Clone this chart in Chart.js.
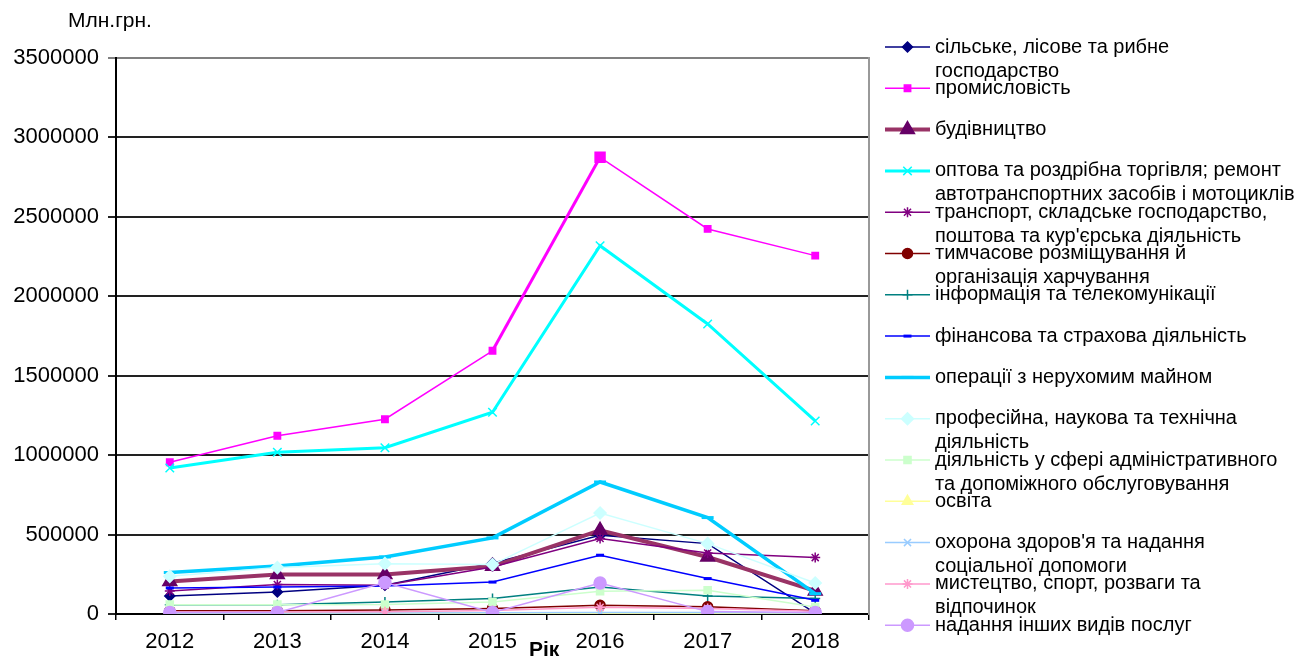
<!DOCTYPE html>
<html>
<head>
<meta charset="utf-8">
<script src="https://cdn.jsdelivr.net/npm/chart.js@4/dist/chart.umd.min.js"></script>
<style>
  body { margin: 0; background: #fff; }
  #wrap { width: 1314px; height: 658px; position: relative; }
</style>
</head>
<body>
<div id="wrap"><canvas id="salesChart"></canvas></div>
<script>
const years = ['2012', '2013', '2014', '2015', '2016', '2017', '2018'];

const agriculture = [113000, 139000, 181000, 320000, 496000, 443000, 5000];
const industry = [955000, 1122000, 1226000, 1657000, 2875000, 2424000, 2256000];
const construction = [205000, 248000, 248000, 300000, 527000, 359000, 145000];
const trade = [919000, 1018000, 1047000, 1270000, 2318000, 1826000, 1215000];
const transport = [145000, 185000, 181000, 296000, 475000, 384000, 355000];
const accommodation = [20000, 20000, 25000, 35000, 55000, 45000, 20000];
const information = [59000, 59000, 76000, 97000, 170000, 113000, 97000];
const finance = [164000, 170000, 176000, 201000, 370000, 223000, 86000];
const realEstate = [261000, 302000, 359000, 479000, 831000, 607000, 128000];
const professional = [237000, 292000, 317000, 311000, 636000, 443000, 195000];
const administrative = [59000, 59000, 60000, 76000, 143000, 149000, 44000];
const education = [3000, 3000, 3000, 3000, 3000, 3000, 3000];
const health = [6000, 6000, 7000, 8000, 10000, 9000, 7000];
const arts = [12000, 12000, 14000, 22000, 42000, 35000, 17000];
const otherServices = [9000, 9000, 198000, 9000, 195000, 15000, 9000];

const seriesNames = [
    ['сільське, лісове та рибне', 'господарство'],
    ['промисловість'],
    ['будівництво'],
    ['оптова та роздрібна торгівля; ремонт', 'автотранспортних засобів і мотоциклів'],
    ['транспорт, складське господарство,', 'поштова та кур\'єрська діяльність'],
    ['тимчасове розміщування й', 'організація харчування'],
    ['інформація та телекомунікації'],
    ['фінансова та страхова діяльність'],
    ['операції з нерухомим майном'],
    ['професійна, наукова та технічна', 'діяльність'],
    ['діяльність у сфері адміністративного', 'та допоміжного обслуговування'],
    ['освіта'],
    ['охорона здоров\'я та надання', 'соціальної допомоги'],
    ['мистецтво, спорт, розваги та', 'відпочинок'],
    ['надання інших видів послуг']
];

const yTicks = [0, 500000, 1000000, 1500000, 2000000, 2500000, 3000000, 3500000];
const unitLabel = 'Млн.грн.';
const xTitle = 'Рік';

const FONT = '"Liberation Sans", Arial, sans-serif';

function series(i, values, line, width, marker, style, radius, extra) {
    return Object.assign({
        label: seriesNames[i].join(' '),
        data: values,
        borderColor: line,
        borderWidth: width,
        pointStyle: style,
        pointRadius: radius,
        pointHoverRadius: radius,
        pointBackgroundColor: marker,
        pointBorderColor: marker,
        pointBorderWidth: 1.5,
        fill: false,
        tension: 0,
        order: 20 - i
    }, extra || {});
}

const datasets = [
    series(0, agriculture, '#000080', 1.5, '#000080', 'rectRot', 5),
    series(1, industry, '#FF00FF', 1.5, '#FF00FF', 'rect', 4.5, {
        pointRadius: [4.5, 4.5, 4.5, 4.5, 7, 4.5, 4.5],
        segment: { borderWidth: c => c.p0DataIndex === 3 ? 3 : 1.5 }
    }),
    series(2, construction, '#993366', 4, '#660066', 'triangle', 8),
    series(3, trade, '#00FFFF', 3, '#00FFFF', 'crossRot', 6),
    series(4, transport, '#800080', 1.5, '#800080', 'star', 5),
    series(5, accommodation, '#800000', 1.5, '#800000', 'circle', 5),
    series(6, information, '#008080', 1.5, '#008080', 'cross', 5),
    series(7, finance, '#0000FF', 1.5, '#0000FF', 'line', 4, { pointBorderWidth: 3 }),
    series(8, realEstate, '#00CCFF', 3.5, '#00CCFF', 'line', 6, { pointBorderWidth: 3 }),
    series(9, professional, '#CCFFFF', 1.5, '#CCFFFF', 'rectRot', 6),
    series(10, administrative, '#CCFFCC', 1.5, '#CCFFCC', 'rect', 5),
    series(11, education, '#FFFF99', 1.5, '#FFFF99', 'triangle', 6),
    series(12, health, '#99CCFF', 1.5, '#99CCFF', 'crossRot', 5),
    series(13, arts, '#FF99CC', 1.5, '#FF99CC', 'star', 5),
    series(14, otherServices, '#CC99FF', 1.5, '#CC99FF', 'circle', 6)
];

// legend on the right, one slot per series, wrapped text
const sideLegend = {
    id: 'sideLegend',
    afterDraw(chart) {
        const ctx = chart.ctx;
        ctx.save();
        ctx.fillStyle = '#000';
        ctx.textBaseline = 'middle';
        ctx.textAlign = 'left';
        ctx.font = '21px ' + FONT;
        ctx.fillText(unitLabel, 68, 21);
        ctx.font = 'bold 21px ' + FONT;
        ctx.fillText(xTitle, 529, 650);

        const top = 47, step = 41.3, x0 = 885, x1 = 930, tx = 935;
        chart.data.datasets.forEach((ds, i) => {
            const y = top + i * step;
            ctx.strokeStyle = ds.borderColor;
            ctx.lineWidth = ds.borderWidth;
            ctx.beginPath();
            ctx.moveTo(x0, y);
            ctx.lineTo(x1, y);
            ctx.stroke();
            ctx.fillStyle = ds.pointBackgroundColor;
            ctx.strokeStyle = ds.pointBorderColor;
            ctx.lineWidth = ds.pointBorderWidth;
            const r = Array.isArray(ds.pointRadius) ? ds.pointRadius[0] : ds.pointRadius;
            Chart.helpers.drawPoint(ctx, {
                pointStyle: ds.pointStyle,
                radius: r,
                rotation: 0,
                borderWidth: ds.pointBorderWidth
            }, (x0 + x1) / 2, y);
            ctx.fillStyle = '#000';
            ctx.font = '20px ' + FONT;
            seriesNames[i].forEach((line, k) => {
                ctx.fillText(line, tx, y + k * 24);
            });
        });
        ctx.restore();
    }
};

new Chart(document.getElementById('salesChart'), {
    type: 'line',
    data: {
        labels: years,
        datasets: datasets
    },
    options: {
        responsive: true,
        maintainAspectRatio: false,
        animation: false,
        layout: {
            padding: { top: 58, right: 445, bottom: 0, left: 0 }
        },
        plugins: {
            legend: { display: false },
            tooltip: { enabled: false }
        },
        scales: {
            x: {
                offset: true,
                afterFit: s => { s.height = 44; },
                grid: {
                    offset: true,
                    drawOnChartArea: false,
                    tickLength: 6,
                    color: '#000',
                    lineWidth: 1.5
                },
                border: { color: '#000', width: 2 },
                ticks: {
                    color: '#000',
                    padding: 9,
                    font: { family: FONT, size: 22 }
                }
            },
            y: {
                min: 0,
                max: 3500000,
                afterFit: s => { s.width = 116; },
                afterBuildTicks: s => { s.ticks = yTicks.map(v => ({ value: v })); },
                grid: {
                    color: c => c.tick && c.tick.value === 3500000 ? '#808080' : '#222',
                    lineWidth: 2,
                    tickLength: 8
                },
                border: { color: '#000', width: 2 },
                ticks: {
                    color: '#000',
                    padding: 9,
                    font: { family: FONT, size: 22 },
                    callback: v => String(v)
                }
            },
            frame: {
                position: 'right',
                min: 0,
                max: 3500000,
                afterFit: s => { s.width = 0; },
                grid: { display: false },
                border: { color: '#999', width: 2 },
                ticks: { display: false }
            }
        }
    },
    plugins: [sideLegend]
});
</script>
</body>
</html>
